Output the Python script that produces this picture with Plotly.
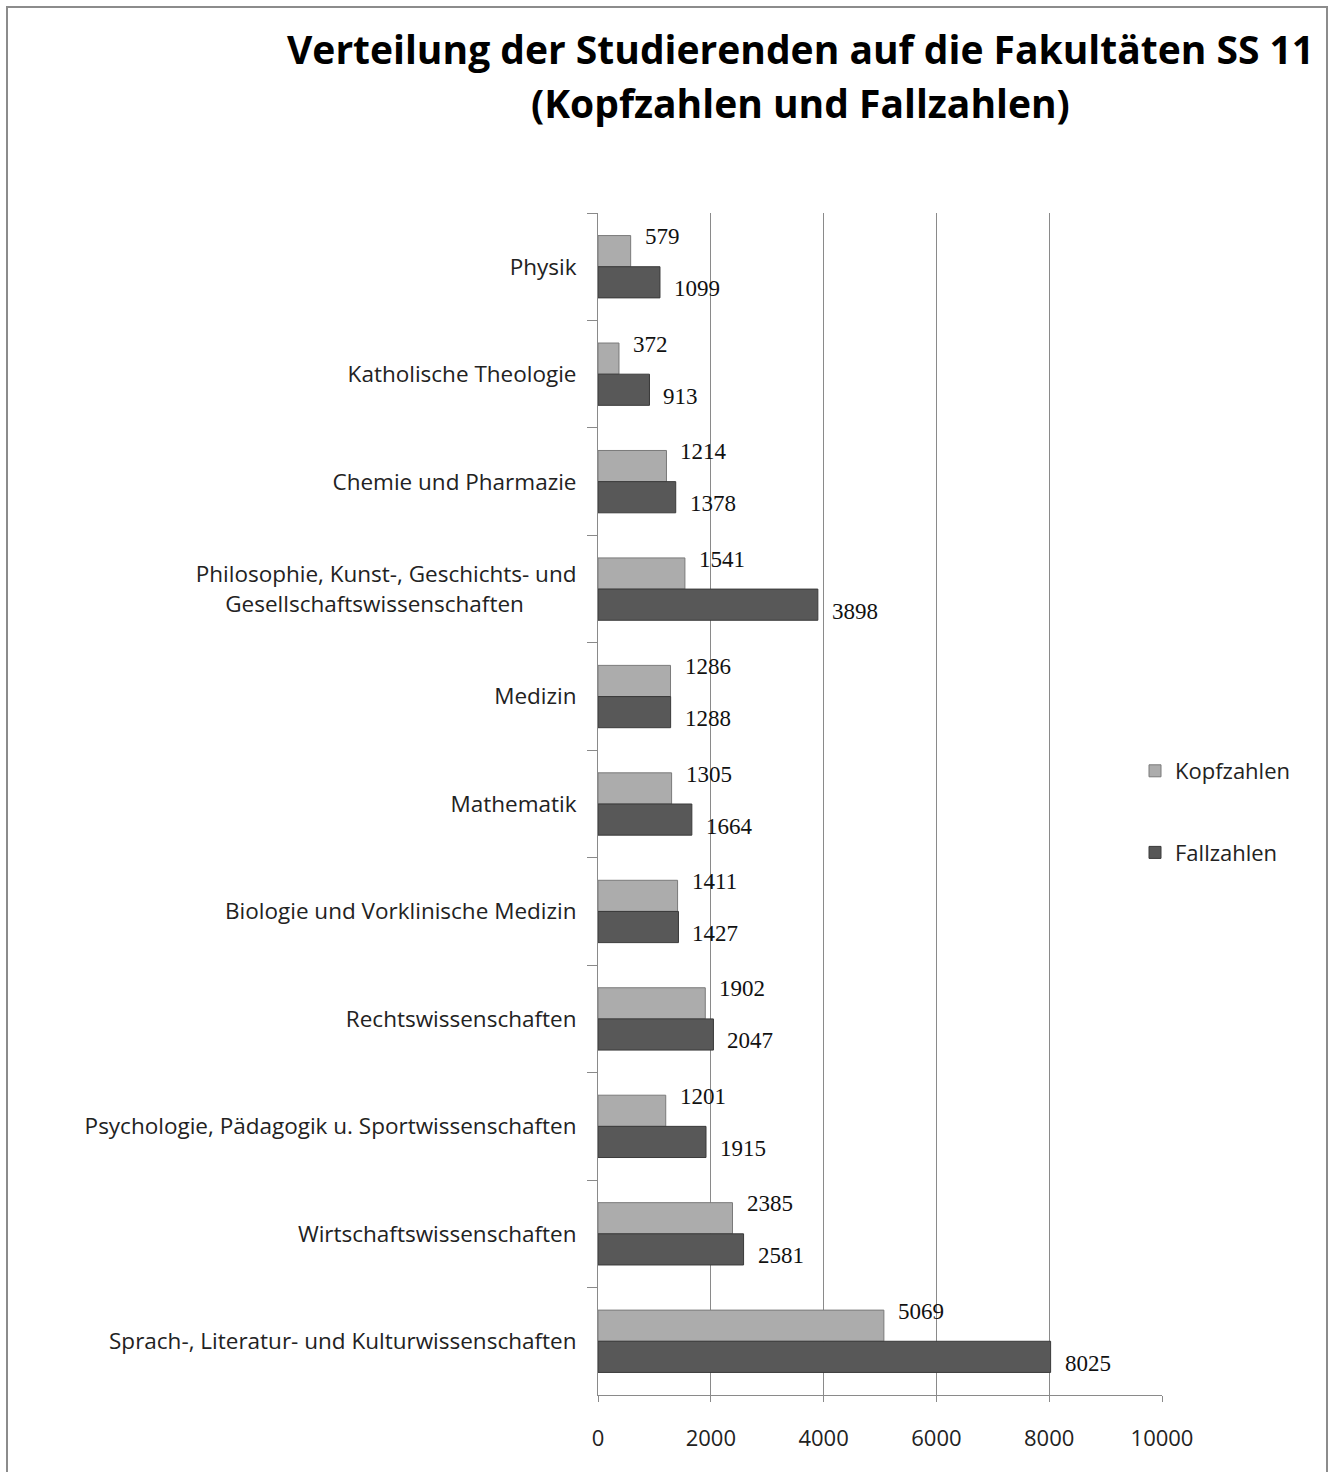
import plotly.graph_objects as go

# faculties, top to bottom as in the chart
faculties = [
    "Physik",
    "Katholische Theologie",
    "Chemie und Pharmazie",
    "Philosophie, Kunst-, Geschichts- und<br>Gesellschaftswissenschaften" + "&nbsp;" * 9,
    "Medizin",
    "Mathematik",
    "Biologie und Vorklinische Medizin",
    "Rechtswissenschaften",
    "Psychologie, Pädagogik u. Sportwissenschaften",
    "Wirtschaftswissenschaften",
    "Sprach-, Literatur- und Kulturwissenschaften",
]
kopfzahlen = [579, 372, 1214, 1541, 1286, 1305, 1411, 1902, 1201, 2385, 5069]
fallzahlen = [1099, 913, 1378, 3898, 1288, 1664, 1427, 2047, 1915, 2581, 8025]

x_ticks = [0, 2000, 4000, 6000, 8000, 10000]
x_tick_text = ["0", "2000", "4000", "6000", "8000", "10000"]

title_lines = ["Verteilung der Studierenden auf die Fakultäten SS 11",
               "(Kopfzahlen und Fallzahlen)"]

W, H = 1332, 1472
L, R, T, B = 598, 170, 213, 77
pw, ph = W - L - R, H - T - B

SANS = "Open Sans, Lato, sans-serif"

fig = go.Figure()
fig.add_trace(go.Bar(
    y=faculties, x=kopfzahlen, orientation="h", name="Kopfzahlen",
    marker={"color": "#acacac", "line": {"color": "#7a7a7a", "width": 1}},
    legendgroup="k", hoverinfo="x+y",
))
fig.add_trace(go.Bar(
    y=faculties, x=fallzahlen, orientation="h", name="Fallzahlen",
    marker={"color": "#585858", "line": {"color": "#3a3a3a", "width": 1}},
    legendgroup="f", hoverinfo="x+y",
))

# value labels, offset above / below like the original
label_font = {"family": "Liberation Serif", "size": 23, "color": "#111"}
for cat, k, f in zip(faculties, kopfzahlen, fallzahlen):
    fig.add_annotation(x=k, y=cat, text=str(k), showarrow=False, xanchor="left",
                       xshift=12, yshift=30, font=label_font)
    fig.add_annotation(x=f, y=cat, text=str(f), showarrow=False, xanchor="left",
                       xshift=12, yshift=-22, font=label_font)

# title, one annotation per line
for line, ypx in zip(title_lines, [48, 103]):
    fig.add_annotation(
        text=line, xref="paper", yref="paper",
        x=(800 - L) / pw, y=(H - B - ypx) / ph,
        xanchor="center", yanchor="middle", showarrow=False,
        font={"family": SANS, "size": 39, "color": "#000", "weight": "bold"},
    )

# outer chart border
fig.add_shape(type="rect", xref="paper", yref="paper",
              x0=(7 - L) / pw, x1=(1327 - L) / pw,
              y0=-0.2, y1=(H - B - 7) / ph,
              line={"color": "#8c8c8c", "width": 2}, layer="below")

fig.update_layout(
    width=W, height=H,
    margin={"l": L, "r": R, "t": T, "b": B},
    paper_bgcolor="white", plot_bgcolor="white",
    barmode="group", bargap=0.42, bargroupgap=0,
    font={"family": SANS, "size": 22, "color": "#222"},
    legend={
        "x": (1135 - L) / pw, "xanchor": "left",
        "y": (H - B - 750) / ph, "yanchor": "top",
        "tracegroupgap": 50, "font": {"size": 22},
        "bgcolor": "rgba(0,0,0,0)",
    },
)

fig.update_xaxes(
    range=[0, 10000], tickvals=x_ticks, ticktext=x_tick_text, showgrid=True,
    gridcolor="#8a8a8a", gridwidth=1, showline=True, linecolor="#8a8a8a",
    linewidth=1, ticks="outside", ticklen=6, tickcolor="#8a8a8a",
    zeroline=False, ticklabelstandoff=18, tickfont={"size": 22},
)
fig.update_yaxes(
    autorange="reversed", showline=True, linecolor="#8a8a8a", linewidth=1,
    ticks="outside", ticklen=10, tickcolor="#8a8a8a", tickson="boundaries",
    showgrid=False, tickfont={"size": 22.5}, ticklabelstandoff=16,
)

fig.write_html("out.html", config={"displayModeBar": False},
               post_script="document.body.style.margin='0';")
